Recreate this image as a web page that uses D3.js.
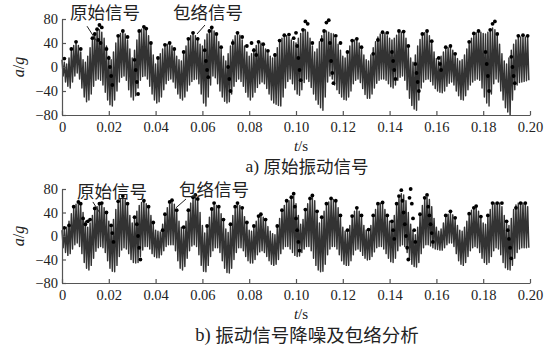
<!DOCTYPE html>
<html><head><meta charset="utf-8">
<script src="https://cdn.jsdelivr.net/npm/d3@7"></script>
<style>body{margin:0;background:#fff}</style>
</head><body>
<svg id="c" width="546" height="347"></svg>
<script>
// ---------- data ----------
const xTicks = [0,0.02,0.04,0.06,0.08,0.10,0.12,0.14,0.16,0.18,0.20];
const xTickLabels = ["0","0.02","0.04","0.06","0.08","0.10","0.12","0.14","0.16","0.18","0.20"];
const yTicks = [-80,-40,0,40,80];
const yTickLabels = ["\u221280","\u221240","0","40","80"];
const sampleStep = 0.001; // s, one oscillation per sample (peak then trough)

// panel a: raw vibration signal, peak (upper) and trough (lower) of each oscillation
const upperA = [12,8,5,15,28,36,40,36,25,12,
 8,18,32,45,55,60,62,58,48,35,
 18,12,25,40,50,56,58,55,45,30,
 15,28,45,57,63,65,62,52,38,20,
 5,12,22,30,35,38,38,35,28,18,
 12,10,22,35,45,52,55,52,45,38,
 35,45,55,62,64,60,52,42,30,18,
 10,22,35,45,52,55,53,45,35,25,
 18,22,30,36,40,40,36,30,24,18,
 15,22,32,42,48,51,52,50,45,42,
 40,48,56,60,62,58,48,35,25,30,
 42,52,58,60,58,56,55,48,38,28,
 18,15,25,35,42,45,45,40,30,20,
 12,10,20,32,42,50,55,57,56,52,
 48,45,48,53,57,58,57,48,32,15,
 8,20,35,46,53,57,58,52,40,25,
 14,10,18,25,30,32,32,28,20,14,
 10,12,20,30,40,48,54,57,58,58,
 56,55,58,62,65,62,52,38,22,10,
 5,15,28,38,45,50,50,50,50,50];
const lowerA = [-15,-25,-32,-35,-25,-15,-10,-20,-35,-50,
 -58,-55,-45,-32,-22,-20,-22,-30,-42,-55,
 -63,-65,-55,-40,-25,-17,-15,-22,-38,-50,
 -55,-48,-35,-22,-16,-15,-20,-32,-45,-55,
 -60,-58,-50,-38,-28,-22,-20,-25,-35,-45,
 -52,-55,-50,-40,-30,-24,-21,-20,-28,-45,
 -60,-65,-50,-30,-15,-18,-28,-40,-50,-57,
 -60,-58,-45,-32,-24,-20,-24,-32,-42,-50,
 -55,-50,-42,-34,-28,-25,-28,-36,-45,-55,
 -60,-62,-64,-65,-50,-35,-24,-20,-28,-38,
 -45,-47,-38,-26,-20,-24,-34,-45,-55,-62,
 -68,-72,-50,-25,-15,-20,-30,-38,-44,-50,
 -54,-55,-50,-40,-28,-22,-20,-26,-36,-46,
 -52,-52,-45,-35,-27,-22,-20,-20,-22,-28,
 -33,-35,-30,-22,-17,-15,-22,-38,-52,-64,
 -70,-72,-55,-35,-25,-21,-20,-24,-30,-36,
 -40,-42,-43,-40,-32,-27,-25,-30,-40,-48,
 -54,-55,-48,-38,-30,-25,-22,-20,-22,-35,
 -50,-60,-65,-45,-28,-20,-25,-40,-55,-68,
 -75,-80,-55,-38,-30,-26,-25,-24,-23,-22];
// envelope points [time in ms, value]
const envA = [[1,14],[4,30],[6,42],[8,30],[13,48],[14,55],[15,63],[15.5,45],[16,70],[16.5,40],[17,66],[19,30],[20,15],[20.5,0],[21,-15],[21.5,-30],
 [24,52],[26,60],[28,50],[31,12],[31.5,-5],[32,-25],[32.5,-45],[33,60],[35,67],[36,64],[38,40],[41,15],[44,37],[46,40],[48,30],
 [52,25],[54,47],[56,57],[58,47],[61,28],[61.5,10],[62,-5],[62.5,-17],[63,60],[64,66],[66,55],[68,33],[71,0],[71.5,-20],[72,-40],
 [73,40],[75,57],[77,50],[79,35],[81,40],[82,28],[83,20],[84,42],[86,38],[88,27],[91,20],[93,44],[95,53],[97,54],[99,48],
 [100,57],[100.5,35],[101,15],[101.5,-5],[102,-22],[103,62],[104,76],[105,72],[107,40],[111,45],[112,60],[113,74],[114,78],
 [114.5,40],[115,10],[115.5,-10],[116,-27],[117,52],[119,40],[122,25],[124,44],[126,47],[128,33],[133,22],[135,45],[137,58],[139,57],
 [141,25],[141.5,10],[142,-5],[142.5,-20],[144,60],[146,59],[148,35],[151,5],[151.5,-10],[152,-25],[152.5,-40],[154,55],[156,60],[158,43],
 [161,15],[161.5,5],[162,-5],[164,33],[166,35],[168,22],[174,42],[176,56],[178,60],[181,25],[181.5,5],[182,-15],[182.5,-40],
 [183,62],[184,72],[185,76],[186,55],[192,17],[192.5,0],[193,-15],[193.5,-27],[195,52],[197,53],[199,52]];

// panel b: denoised signal
const upperB = [10,12,15,25,38,48,54,56,52,40,
 25,15,22,35,45,50,53,53,48,38,
 25,15,28,45,57,63,65,62,52,35,
 22,30,42,52,57,58,55,48,35,20,
 10,8,7,20,35,48,55,58,54,42,
 25,15,12,25,42,56,64,66,60,40,
 18,5,15,32,45,53,52,48,38,25,
 12,6,18,35,47,53,52,45,33,20,
 10,8,15,25,32,34,32,25,16,8,
 4,2,15,30,42,52,58,60,64,68,
 55,35,20,28,42,55,62,66,60,40,
 22,30,42,52,58,61,62,58,48,32,
 15,8,6,18,32,42,45,42,32,18,
 10,8,18,32,45,52,56,54,45,32,
 25,22,35,52,65,72,70,60,40,20,
 8,2,15,35,52,62,66,62,50,30,
 15,8,12,22,32,37,39,36,28,18,
 10,8,15,25,36,44,48,48,42,30,
 22,20,32,45,53,56,56,56,50,35,
 22,18,30,45,53,56,56,56,56,50];
const lowerB = [-20,-28,-33,-30,-22,-15,-12,-18,-30,-45,
 -55,-58,-50,-38,-26,-20,-18,-20,-28,-42,
 -55,-60,-61,-50,-35,-24,-20,-22,-30,-40,
 -45,-46,-45,-35,-24,-18,-18,-22,-30,-35,
 -37,-37,-32,-25,-18,-15,-15,-15,-25,-42,
 -55,-58,-52,-38,-25,-17,-15,-18,-32,-50,
 -60,-61,-50,-35,-25,-20,-20,-28,-42,-55,
 -62,-63,-55,-40,-28,-20,-20,-25,-35,-42,
 -46,-46,-40,-32,-27,-25,-28,-35,-42,-48,
 -50,-48,-40,-30,-22,-18,-18,-22,-28,-33,
 -35,-34,-28,-22,-18,-18,-25,-38,-50,-58,
 -61,-60,-48,-32,-22,-18,-18,-22,-32,-42,
 -48,-50,-50,-42,-32,-24,-22,-26,-33,-38,
 -41,-40,-35,-27,-20,-18,-18,-22,-30,-38,
 -44,-45,-38,-25,-17,-15,-18,-28,-40,-48,
 -52,-53,-45,-30,-20,-15,-15,-17,-20,-22,
 -23,-24,-24,-20,-15,-12,-12,-18,-30,-42,
 -48,-50,-45,-35,-25,-20,-18,-20,-28,-38,
 -45,-48,-45,-35,-25,-20,-22,-32,-45,-54,
 -57,-58,-50,-38,-28,-22,-20,-20,-20,-20];
const envB = [[1,14],[3,18],[5,50],[7,58],[8,55],[9,30],[10,20],[11,25],[12,28],[14,47],[16,55],[17,56],[19,40],[21,18],[21.5,5],[22,-10],
 [24,59],[26,68],[28,55],[31,32],[32,20],[32.5,0],[33,-20],[33.5,-40],[35,60],[37,50],[39,23],[43,10],[44,37],[46,58],[47,61],[49,44],
 [52,15],[54,44],[56,66],[57,70],[58,63],[62,17],[64,46],[65,56],[67,50],[69,28],[72,20],[74,50],[75,56],[77,48],[79,23],
 [82,17],[84,34],[85,37],[87,28],[92,17],[94,44],[96,60],[98,66],[99,72],[99.5,50],[100,30],[100.5,10],[101,-10],[101.5,-25],
 [104,45],[106,64],[107,69],[109,42],[111,32],[113,55],[115,64],[117,60],[119,35],[122,10],[124,34],[126,48],[128,35],[131,11],
 [133,35],[135,55],[137,57],[139,35],[141,25],[141.5,10],[142,-5],[143,55],[144,68],[145,78],[145.5,60],[146,40],[146.5,20],[147,0],
 [147.5,-20],[148,-40],[148.5,65],[149,80],[149.5,55],[150,30],[150.5,10],[151,-10],[153,37],[155,65],[156,70],[156.5,50],[157,35],
 [157.5,20],[158,5],[158.5,-10],[164,35],[166,42],[168,31],[174,38],[176,48],[177,51],[179,33],[182,35],[184,56],[186,56],[188,56],
 [190,25],[190.5,10],[191,-5],[191.5,-20],[192,-38],[194,48],[196,56],[198,56]];

// annotations in data units: label position, pointer start, pointer end
const annoA = [
  {text:"原始信号", t:0.0184, v:88, p1:[0.0107,68], p2:[0.0150,42]},
  {text:"包络信号", t:0.0624, v:88, p1:[0.0611,70], p2:[0.0577,55]}
];
const annoB = [
  {text:"原始信号", t:0.0214, v:73, p1:[0.0132,58], p2:[0.0162,39]},
  {text:"包络信号", t:0.0650, v:77, p1:[0.0530,63], p2:[0.0487,48]}
];
const captions = ["a) 原始振动信号", "b) 振动信号降噪及包络分析"];

// ---------- layout ----------
const W = 546, H = 347;
const plotLeft = 62, plotRight = 530;
const panels = [
  {upper: upperA, lower: lowerA, env: envA, anno: annoA, caption: captions[0], top: 19, bottom: 115, tY: 148, capY: 168, capSize: 17.5},
  {upper: upperB, lower: lowerB, env: envB, anno: annoB, caption: captions[1], top: 189, bottom: 283, tY: 316, capY: 337, capSize: 18.5}
];
const serif = "'Liberation Serif','Times New Roman',serif";
const cjk = "'Noto Sans CJK SC','Liberation Serif',serif";
const svg = d3.select("#c");
svg.append("rect").attr("width", W).attr("height", H).attr("fill", "#fff");

const x = d3.scaleLinear().domain([0, 0.2]).range([plotLeft, plotRight]);

panels.forEach(p => {
  const y = d3.scaleLinear().domain([-80, 80]).range([p.bottom, p.top]);
  const g = svg.append("g");

  // signal zig-zag
  const pts = [];
  p.upper.forEach((u, i) => {
    pts.push([i * sampleStep, u]);
    pts.push([i * sampleStep + sampleStep / 2, p.lower[i]]);
  });
  g.append("path")
    .attr("d", d3.line().x(d => x(d[0])).y(d => y(d[1]))(pts))
    .attr("fill", "none").attr("stroke", "#333").attr("stroke-width", 1.45)
    .attr("stroke-linejoin", "round");

  // envelope dots
  g.selectAll("circle.env").data(p.env).enter().append("circle")
    .attr("cx", d => x(d[0] / 1000)).attr("cy", d => y(d[1]))
    .attr("r", 1.9).attr("fill", "#000");

  // axes
  const ax = g.append("g").attr("transform", `translate(0,${p.bottom})`)
    .call(d3.axisBottom(x).tickValues(xTicks).tickFormat((d, i) => xTickLabels[i])
      .tickSizeInner(-4).tickSizeOuter(0).tickPadding(7));
  const ay = g.append("g").attr("transform", `translate(${plotLeft},0)`)
    .call(d3.axisLeft(y).tickValues(yTicks).tickFormat((d, i) => yTickLabels[i])
      .tickSizeInner(-4).tickSizeOuter(0).tickPadding(4));
  [ax, ay].forEach(a => {
    a.attr("font-family", serif).attr("font-size", 14);
    a.selectAll("path,line").attr("stroke", "#555").attr("stroke-width", 1.2);
    a.selectAll("text").style("font-family", serif).style("font-size", "14.5px").attr("fill", "#222");
  });

  // axis titles
  const tt = g.append("text").attr("x", (plotLeft + plotRight) / 2 + 5).attr("y", p.tY)
    .attr("text-anchor", "middle").attr("dominant-baseline", "middle")
    .style("font-family", serif).style("font-size", "15px").attr("fill", "#222");
  tt.append("tspan").attr("font-style", "italic").text("t");
  tt.append("tspan").text("/s");

  const yl = g.append("text")
    .attr("transform", `translate(20,${(p.top + p.bottom) / 2}) rotate(-90)`)
    .attr("text-anchor", "middle").attr("dominant-baseline", "middle")
    .style("font-family", serif).style("font-size", "16px").attr("fill", "#222");
  yl.append("tspan").attr("font-style", "italic").text("a");
  yl.append("tspan").text("/");
  yl.append("tspan").attr("font-style", "italic").text("g");

  // caption: latin part in serif, Chinese in CJK font
  const parts = p.caption.split(" ");
  const cap = g.append("text").attr("x", 307).attr("y", p.capY)
    .attr("text-anchor", "middle").attr("dominant-baseline", "middle")
    .style("font-size", p.capSize + "px").attr("fill", "#222");
  cap.append("tspan").style("font-family", serif).text(parts[0] + " ");
  cap.append("tspan").style("font-family", cjk).text(parts.slice(1).join(" "));

  // annotations
  p.anno.forEach(a => {
    g.append("line")
      .attr("x1", x(a.p1[0])).attr("y1", y(a.p1[1]))
      .attr("x2", x(a.p2[0])).attr("y2", y(a.p2[1]))
      .attr("stroke", "#222").attr("stroke-width", 1);
    g.append("text").attr("x", x(a.t)).attr("y", y(a.v))
      .attr("text-anchor", "middle").attr("dominant-baseline", "middle")
      .style("font-family", cjk).style("font-size", "17.5px").attr("fill", "#222")
      .text(a.text);
  });
});
</script>
</body></html>
